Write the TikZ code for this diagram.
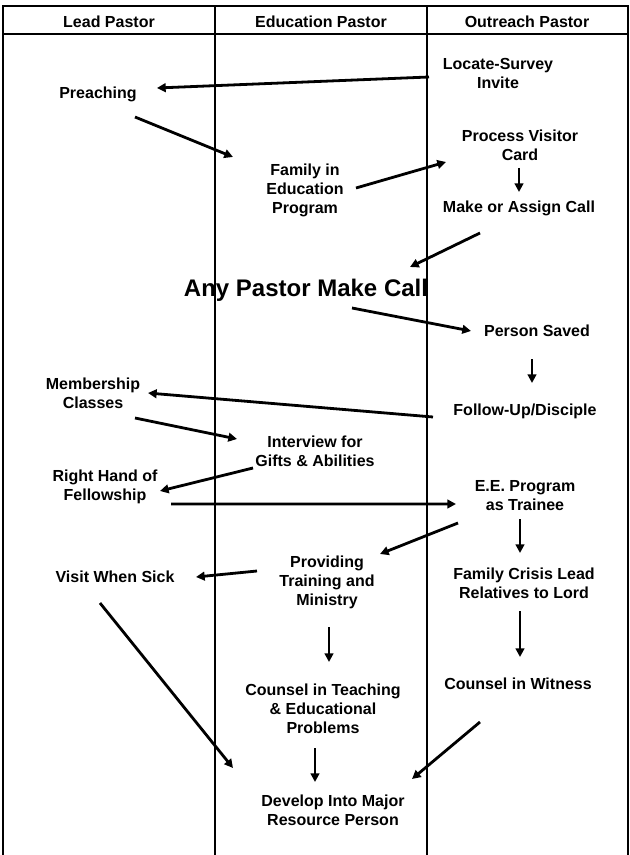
\documentclass[tikz,border=0pt]{standalone}
\usepackage{fontspec}
\setmainfont{Liberation Sans}
\usetikzlibrary{arrows.meta}
\begin{document}
\begin{tikzpicture}[x=0.75pt, y=-0.75pt,
        lbl/.style={font=\fontsize{12}{14.25}\selectfont\bfseries, align=center, inner sep=0pt},
        big/.style={font=\fontsize{18}{22}\selectfont\bfseries, inner sep=0pt},
        arr/.style={-{Triangle[length=6.5pt,width=6.5pt]}, line width=2.1pt},
        lane/.style={line width=1pt}]
        \useasboundingbox (0,0) rectangle (630,855);
        % lanes
        \draw[lane] (3,855) -- (3,6) -- (628,6) -- (628,855);
        \draw[lane] (3,34) -- (628,34);
        \draw[lane] (215,6) -- (215,855);
        \draw[lane] (427,6) -- (427,855);
        \node[lbl] (lead-head) at (109,22) {Lead Pastor};
        \node[lbl] (edu-head) at (321,22) {Education Pastor};
        \node[lbl] (out-head) at (527,22) {Outreach Pastor};
        % steps
        \node[lbl] (locate) at (498,73.5) {Locate-Survey\\Invite};
        \node[lbl] (preach) at (98,94.7) {Preaching};
        \node[lbl] (process) at (520,145) {Process Visitor\\Card};
        \node[lbl] (family) at (305,190.7) {Family in\\Education\\Program};
        \node[lbl] (make) at (519,208.7) {Make or Assign Call};
        \node[big] (any) at (306,290.5) {Any Pastor Make Call};
        \node[lbl] (saved) at (537,331) {Person Saved};
        \node[lbl] (follow) at (525,411.7) {Follow-Up/Disciple};
        \node[lbl] (member) at (93,393.5) {Membership\\Classes};
        \node[lbl] (interview) at (315,451) {Interview for\\Gifts \& Abilities};
        \node[lbl] (right) at (105,486.7) {Right Hand of\\Fellowship};
        \node[lbl] (ee) at (525,496) {E.E. Program\\as Trainee};
        \node[lbl] (provide) at (327,582.7) {Providing\\Training and\\Ministry};
        \node[lbl] (visit) at (115,577) {Visit When Sick};
        \node[lbl] (crisis) at (524,583) {Family Crisis Lead\\Relatives to Lord};
        \node[lbl] (teach) at (323,709) {Counsel in Teaching\\\& Educational\\Problems};
        \node[lbl] (witness) at (518,684) {Counsel in Witness};
        \node[lbl] (develop) at (333,810) {Develop Into Major\\Resource Person};
        % arrows
        \draw[arr] ([shift={(-69,3.5)}]locate.center) -- ([shift={(59,-6.7)}]preach.center);
        \draw[arr] ([shift={(37,22.3)}]preach.center) -- ([shift={(-72,-33.7)}]family.center);
        \draw[arr] ([shift={(51,-2.7)}]family.center) -- ([shift={(-74,17)}]process.center);
        \draw[arr] ([shift={(-1,23)}]process.center) -- ([shift={(0,-16.7)}]make.center);
        \draw[arr] ([shift={(-39,24.3)}]make.center) -- ([shift={(104,-23.5)}]any.center);
        \draw[arr] ([shift={(46,17.5)}]any.center) -- ([shift={(-66,0)}]saved.center);
        \draw[arr] ([shift={(-5,28)}]saved.center) -- ([shift={(7,-28.7)}]follow.center);
        \draw[arr] ([shift={(-92,5.3)}]follow.center) -- ([shift={(55,-0.5)}]member.center);
        \draw[arr] ([shift={(42,24.5)}]member.center) -- ([shift={(-78,-12)}]interview.center);
        \draw[arr] ([shift={(-62,17)}]interview.center) -- ([shift={(55,4.3)}]right.center);
        \draw[arr] ([shift={(66,17.3)}]right.center) -- ([shift={(-69,8)}]ee.center);
        \draw[arr] ([shift={(-67,27)}]ee.center) -- ([shift={(53,-28.7)}]provide.center);
        \draw[arr] ([shift={(-5,23)}]ee.center) -- ([shift={(-4,-30)}]crisis.center);
        \draw[arr] ([shift={(-70,-11.7)}]provide.center) -- ([shift={(81,0)}]visit.center);
        \draw[arr] ([shift={(-15,26)}]visit.center) -- ([shift={(-100,-42)}]develop.center);
        \draw[arr] ([shift={(2,44.3)}]provide.center) -- ([shift={(6,-47)}]teach.center);
        \draw[arr] ([shift={(-4,28)}]crisis.center) -- ([shift={(2,-27)}]witness.center);
        \draw[arr] ([shift={(-8,39)}]teach.center) -- ([shift={(-18,-28)}]develop.center);
        \draw[arr] ([shift={(-38,38)}]witness.center) -- ([shift={(79,-31)}]develop.center);
\end{tikzpicture}
\end{document}
